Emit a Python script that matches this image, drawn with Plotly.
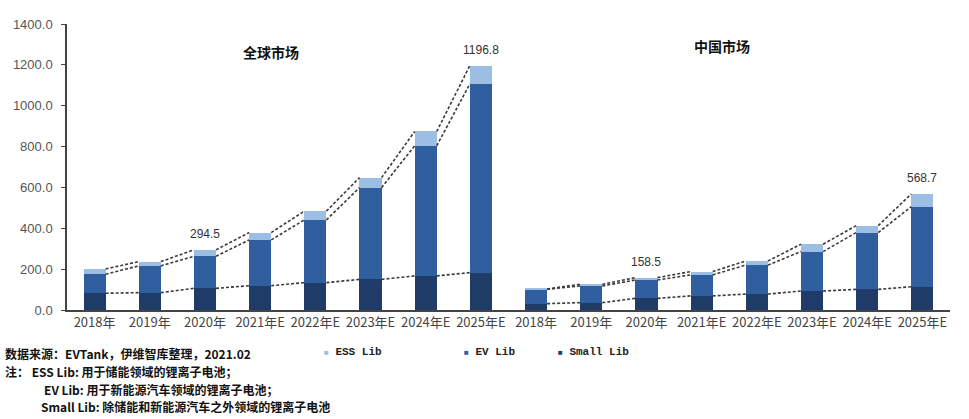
import plotly.graph_objects as go

# Lithium-ion battery shipments (GWh), global vs China, split by application
years = ["2018年", "2019年", "2020年", "2021年E", "2022年E", "2023年E", "2024年E", "2025年E"]
categories = years + years

global_small = [82, 85, 106, 119, 134, 150, 167, 183]
global_ev = [93, 131, 157, 224, 307, 449, 637, 924]
global_ess = [26, 21, 31.5, 36, 43, 49, 70, 89.8]

china_small = [31, 36, 57, 69, 78, 93, 101, 114]
china_ev = [70, 82, 90, 103, 142, 193, 278, 392]
china_ess = [2, 8, 11.5, 16, 20, 36, 34, 62.7]

small = global_small + china_small
ev = global_ev + china_ev
ess = global_ess + china_ess

labelled_years = ["2020年", "2025年E"]
y_ticks = [0, 200, 400, 600, 800, 1000, 1200, 1400]

C_SMALL = "#1F3B68"
C_EV = "#2F5F9F"
C_ESS = "#9DBEE4"
FONT = "Liberation Sans, Arial, Noto Sans CJK SC"
CJK = "Noto Sans CJK SC, Liberation Sans"

x = list(range(len(categories)))
half = 0.2  # half bar width in category units

fig = go.Figure()
for name, vals, col in [("Small Lib", small, C_SMALL), ("EV Lib", ev, C_EV), ("ESS Lib", ess, C_ESS)]:
    fig.add_trace(go.Bar(x=x, y=vals, name=name, marker=dict(color=col, line=dict(width=0)),
                         width=2 * half, showlegend=False))

# series lines joining the top edges of each stacked layer within a market
levels = [
    small,
    [a + b for a, b in zip(small, ev)],
    [a + b + c for a, b, c in zip(small, ev, ess)],
]
n = len(years)
for lv in levels:
    xs, ys = [], []
    for g in range(2):
        for i in range(g * n, g * n + n - 1):
            xs += [x[i] + half, x[i + 1] - half, None]
            ys += [lv[i], lv[i + 1], None]
    fig.add_trace(go.Scatter(x=xs, y=ys, mode="lines", showlegend=False, hoverinfo="skip",
                             line=dict(color="#3a3a3a", width=1.6, dash="3px,2px")))

totals = levels[2]
ann = []
for i, c in enumerate(categories):
    if c in labelled_years:
        ann.append(dict(x=x[i], y=totals[i], text=f"{totals[i]:.1f}", showarrow=False,
                        yshift=16, font=dict(family=FONT, size=12, color="#333")))

ann += [
    dict(x=3.2, y=1262, text="<b>全球市场</b>", showarrow=False, font=dict(family=CJK, size=14, color="#111")),
    dict(x=11.37, y=1290, text="<b>中国市场</b>", showarrow=False, font=dict(family=CJK, size=14, color="#111")),
]

# legend row
for px, name, col in [(322, "ESS Lib", C_ESS), (462, "EV Lib", C_EV), (556, "Small Lib", C_SMALL)]:
    ann.append(dict(xref="paper", yref="paper", x=(px - 67) / 883, y=(310 - 352) / 286,
                    xanchor="left", yanchor="middle", showarrow=False,
                    text=f'<span style="color:{col};font-size:8px">■</span> <b>{name}</b>',
                    font=dict(family="Liberation Mono, Courier New", size=11, color="#222")))

# source and notes
notes = [
    (4, 354, "<b>数据来源：EVTank，伊维智库整理，2021.02</b>"),
    (4, 371.5, "<b>注： ESS Lib: 用于储能领域的锂离子电池；</b>"),
    (43, 389, "<b>EV Lib: 用于新能源汽车领域的锂离子电池；</b>"),
    (40, 406.5, "<b>Small Lib: 除储能和新能源汽车之外领域的锂离子电池</b>"),
]
for px, py, t in notes:
    ann.append(dict(xref="paper", yref="paper", x=(px - 67) / 883, y=(310 - py) / 286,
                    xanchor="left", yanchor="middle", showarrow=False, text=t, borderpad=0,
                    font=dict(family=CJK, size=12, color="#111")))

fig.update_layout(
    width=969, height=419,
    margin=dict(l=67, r=19, t=24, b=109),
    paper_bgcolor="white", plot_bgcolor="white",
    barmode="stack",
    annotations=ann,
    xaxis=dict(range=[-0.5, len(categories) - 0.5], tickmode="array", tickvals=x, ticktext=categories,
               showline=True, linecolor="#444", linewidth=1.5, ticks="", showgrid=False, zeroline=False,
               tickfont=dict(family=CJK, size=13, color="#444"), tickangle=0),
    yaxis=dict(range=[0, 1400], tickmode="array", tickvals=y_ticks, tickformat=".1f",
               showline=True, linecolor="#444", linewidth=1.5, ticks="outside", ticklen=4, tickcolor="#444",
               showgrid=False, zeroline=False, ticklabelstandoff=6,
               tickfont=dict(family=FONT, size=13, color="#555")),
)

fig.write_html("out.html")
